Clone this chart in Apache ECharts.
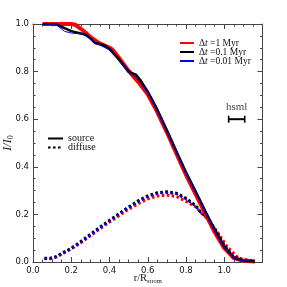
<!DOCTYPE html>
<html><head><meta charset="utf-8">
<script src="https://cdn.jsdelivr.net/npm/echarts@6/dist/echarts.min.js"></script>
<style>html,body{margin:0;padding:0;background:#fff}#c{width:287px;height:287px}</style>
</head><body><div id="c"></div>
<script>
// ---- data ([r/Rstrom, I/I0]) ----
const srcRed = [[0.05,1.0],[0.1,1.0],[0.15,1.0],[0.2,1.0],[0.22,0.997],[0.25,0.98],[0.277,0.962],[0.3,0.945],[0.346,0.92],[0.4,0.9],[0.416,0.892],[0.45,0.857],[0.5,0.803],[0.55,0.757],[0.6,0.705],[0.65,0.63],[0.7,0.545],[0.75,0.455],[0.8,0.366],[0.85,0.285],[0.9,0.205],[0.95,0.125],[1.0,0.058],[1.05,0.016],[1.1,0.005],[1.16,0.002]];
const srcBlack = [[0.05,1.0],[0.1,1.0],[0.125,0.997],[0.15,0.988],[0.2,0.97],[0.25,0.96],[0.275,0.955],[0.3,0.94],[0.325,0.92],[0.35,0.915],[0.375,0.91],[0.4,0.895],[0.45,0.85],[0.5,0.8],[0.54,0.786],[0.565,0.76],[0.6,0.716],[0.65,0.64],[0.7,0.553],[0.75,0.464],[0.8,0.377],[0.85,0.297],[0.9,0.215],[0.95,0.135],[1.0,0.064],[1.05,0.018],[1.1,0.005],[1.16,0.002]];
const srcBlue = [[0.05,1.0],[0.1,1.0],[0.125,0.995],[0.165,0.969],[0.2,0.962],[0.26,0.958],[0.3,0.937],[0.325,0.918],[0.35,0.912],[0.4,0.89],[0.45,0.848],[0.5,0.797],[0.54,0.772],[0.6,0.712],[0.65,0.637],[0.7,0.551],[0.75,0.462],[0.8,0.375],[0.85,0.295],[0.9,0.213],[0.95,0.133],[1.0,0.062],[1.05,0.017],[1.1,0.005],[1.16,0.002]];
const difRed = [[0.06,0.014],[0.09,0.014],[0.12,0.02],[0.15,0.033],[0.2,0.055],[0.25,0.081],[0.3,0.11],[0.35,0.14],[0.4,0.168],[0.45,0.195],[0.5,0.222],[0.55,0.245],[0.6,0.265],[0.65,0.277],[0.7,0.281],[0.75,0.275],[0.8,0.255],[0.85,0.232],[0.885,0.202],[0.91,0.183],[0.963,0.127],[1.015,0.064],[1.075,0.016],[1.16,0.004]];
const difBlack = [[0.06,0.016],[0.09,0.016],[0.12,0.022],[0.15,0.036],[0.2,0.058],[0.25,0.086],[0.3,0.116],[0.35,0.146],[0.4,0.175],[0.45,0.203],[0.5,0.231],[0.55,0.257],[0.6,0.278],[0.65,0.291],[0.7,0.295],[0.75,0.289],[0.8,0.268],[0.85,0.237],[0.876,0.211],[0.91,0.188],[0.95,0.14],[1.0,0.07],[1.05,0.021],[1.1,0.006],[1.16,0.003]];
const difBlue = [[0.06,0.015],[0.09,0.015],[0.12,0.021],[0.15,0.034],[0.2,0.056],[0.25,0.083],[0.3,0.113],[0.35,0.143],[0.4,0.172],[0.45,0.2],[0.5,0.228],[0.55,0.253],[0.6,0.274],[0.65,0.287],[0.7,0.291],[0.75,0.285],[0.8,0.264],[0.85,0.234],[0.876,0.208],[0.91,0.186],[0.95,0.138],[1.0,0.068],[1.05,0.02],[1.1,0.006],[1.16,0.003]];
const hsmlBar = [[1.023,0.6],[1.107,0.6]];
const hsmlLabel = [[1.065,0.652]];
const runNames = ['Δt=1 Myr','Δt=0.1 Myr','Δt=0.01 Myr'];
const runLabels = ['=1 Myr','=0.1 Myr','=0.01 Myr'];
const kindNames = ['source','diffuse'];
const xTicks = [0,0.2,0.4,0.6,0.8,1.0];
const yTicks = [0,0.2,0.4,0.6,0.8,1.0];

const serif = 'Liberation Serif';
const axisCol = '#444';
function baseAxis(extra){
  return Object.assign({
    type:'value', min:0, interval:0.2,
    axisLine:{show:true, onZero:false, lineStyle:{color:axisCol, width:1}},
    axisTick:{show:true, inside:true, length:5, lineStyle:{color:axisCol}},
    minorTick:{show:true, splitNumber:4, length:2.5, lineStyle:{color:axisCol}},
    splitLine:{show:false},
    axisLabel:{show:false}
  }, extra);
}
const fmt = v => (xTicks.some(t=>Math.abs(t-v)<1e-9) ? v.toFixed(1) : '');
const fmtY = v => (yTicks.some(t=>Math.abs(t-v)<1e-9) ? v.toFixed(1) : '');
const lblStyle = {show:true, color:'#111', fontSize:8.5, fontFamily:'DejaVu Sans', margin:4};

const chart = echarts.init(document.getElementById('c'), null, {renderer:'canvas'});
const dash = [2.6,2.4];
function src(name,data,color,w){return {name, type:'line', data, showSymbol:false, symbol:'none', smooth:false, lineStyle:{color, width:w}, itemStyle:{color}, z:3};}
function dif(name,data,color,w){return {name, type:'line', data, showSymbol:false, symbol:'none', lineStyle:{color, width:w, type:dash}, itemStyle:{color}, z:2};}
chart.setOption({
  animation:false,
  grid:{left:33, right:24.5, top:24, bottom:25, containLabel:false, outerBoundsMode:'none'},
  xAxis:[
    baseAxis({max:1.2, position:'bottom', axisLabel:Object.assign({formatter:fmt}, lblStyle),
      name:'{a|r/R}{s|strom}', nameLocation:'middle', nameGap:9, nameMoveOverlap:false,
      nameTextStyle:{rich:{a:{fontFamily:serif, fontSize:10.5, color:'#111'}, s:{fontFamily:serif, fontSize:6.5, color:'#111', padding:[7,0,0,0]}}}}),
    baseAxis({max:1.2, position:'top'})
  ],
  yAxis:[
    baseAxis({max:1.0, position:'left', axisLabel:Object.assign({formatter:fmtY}, lblStyle),
      name:'{a|I/I}{s|0}', nameLocation:'middle', nameGap:18, nameRotate:90, nameMoveOverlap:false,
      nameTextStyle:{rich:{a:{fontFamily:serif, fontStyle:'italic', fontSize:12, color:'#111'}, s:{fontFamily:serif, fontSize:8, color:'#111', padding:[6,0,0,0]}}}}),
    baseAxis({max:1.0, position:'right'})
  ],
  legend:[
    {data:runNames, orient:'vertical', left:174, top:33, itemWidth:14, itemHeight:8, itemGap:-1,
     itemStyle:{opacity:0, borderWidth:0},
     formatter:n=>'{d|Δ}{t|t}{d| '+runLabels[runNames.indexOf(n)]+'}',
     textStyle:{lineHeight:10, rich:{d:{fontFamily:serif, fontSize:9.5, lineHeight:10, color:'#111'}, t:{fontFamily:serif, fontStyle:'italic', fontSize:9.5, lineHeight:10, color:'#111'}}}},
    {data:kindNames, orient:'vertical', left:42, top:128.5, itemWidth:15, itemHeight:8, itemGap:-1,
     itemStyle:{opacity:0, borderWidth:0},
     textStyle:{fontFamily:serif, fontSize:10, lineHeight:10, color:'#111'}}
  ],
  series:[
    src(runNames[0], srcRed, '#ff0000', 4),
    src(runNames[1], srcBlack, '#000000', 2.5),
    src(runNames[2], srcBlue, '#0000ff', 1),
    dif('diff1', difRed, '#ff0000', 3),
    dif('diff01', difBlack, '#000000', 3),
    dif('diff001', difBlue, '#0000ff', 2),
    {name:kindNames[0], type:'line', data:[], symbol:'none', lineStyle:{color:'#000', width:2.5}, itemStyle:{color:'#000'}},
    {name:kindNames[1], type:'line', data:[], symbol:'none', lineStyle:{color:'#000', width:3, type:dash}, itemStyle:{color:'#000'}},
    {name:'hsml', type:'line', data:hsmlBar, symbol:'rect', symbolSize:[1.6,7], lineStyle:{color:'#000', width:2}, itemStyle:{color:'#000'}, z:4},
    {name:'hsmlText', type:'scatter', data:hsmlLabel, symbolSize:0,
     label:{show:true, position:'inside', formatter:'hsml', fontFamily:serif, fontSize:11, color:'#111'}}
  ]
});
</script></body></html>
